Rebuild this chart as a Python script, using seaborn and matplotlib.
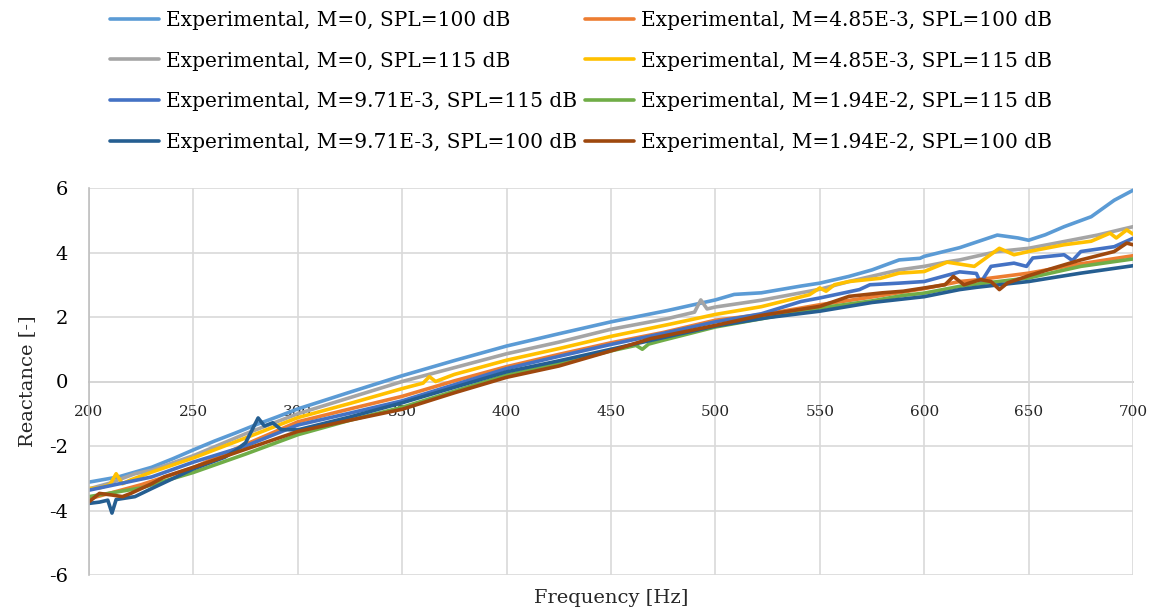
import matplotlib
matplotlib.use("Agg")
import matplotlib.pyplot as plt
import seaborn as sns

# ---- data ----
labels = [
    "Experimental, M=0, SPL=100 dB",
    "Experimental, M=4.85E-3, SPL=100 dB",
    "Experimental, M=0, SPL=115 dB",
    "Experimental, M=4.85E-3, SPL=115 dB",
    "Experimental, M=9.71E-3, SPL=115 dB",
    "Experimental, M=1.94E-2, SPL=115 dB",
    "Experimental, M=9.71E-3, SPL=100 dB",
    "Experimental, M=1.94E-2, SPL=100 dB",
]
colors = ["#5B9BD5", "#ED7D31", "#A5A5A5", "#FFC000",
          "#4472C4", "#70AD47", "#255E91", "#9E480E"]

f1 = [200,214,230,240,250,260,270,280,290,300,325,350,375,400,425,450,477,500,509,522,541,550,564,575,588,598,600,617,635,645,650,658,667,680,691,700]
v1 = [-3.12,-2.96,-2.66,-2.4,-2.12,-1.85,-1.6,-1.34,-1.1,-0.85,-0.33,0.18,0.65,1.1,1.48,1.85,2.2,2.53,2.7,2.75,2.96,3.05,3.26,3.46,3.77,3.82,3.88,4.15,4.54,4.45,4.38,4.55,4.8,5.11,5.62,5.93]

f2 = [200,225,250,275,300,325,350,375,400,425,450,475,500,525,550,575,600,617,625,650,675,700]
v2 = [-3.64,-3.2,-2.67,-1.95,-1.25,-0.85,-0.46,0.02,0.46,0.84,1.2,1.52,1.9,2.1,2.38,2.62,2.88,3.1,3.15,3.36,3.65,3.9]

f3 = [200,210,222,230,250,275,300,325,350,375,400,425,450,477,490,493,496,500,522,550,564,588,600,612,617,635,650,667,683,700]
v3 = [-3.33,-3.15,-2.86,-2.75,-2.3,-1.62,-1.0,-0.5,0.0,0.43,0.86,1.22,1.62,1.95,2.15,2.53,2.25,2.31,2.52,2.86,3.1,3.46,3.57,3.72,3.77,4.03,4.13,4.34,4.54,4.8]

f4 = [200,205,210,213,216,220,230,250,275,300,325,350,360,363,366,375,400,425,450,477,500,522,545,550,553,557,564,579,588,600,611,624,636,643,650,667,680,689,692,697,700]
v4 = [-3.32,-3.3,-3.2,-2.86,-3.17,-3.05,-2.81,-2.37,-1.75,-1.12,-0.68,-0.22,-0.05,0.15,0.0,0.22,0.66,1.02,1.4,1.76,2.08,2.32,2.69,2.9,2.8,3.0,3.1,3.2,3.36,3.41,3.7,3.57,4.13,3.93,4.03,4.24,4.35,4.6,4.45,4.7,4.57]

f5 = [200,230,250,275,300,325,350,375,400,425,450,477,500,522,541,550,569,574,588,600,617,625,627,632,643,649,652,667,671,675,691,700]
v5 = [-3.37,-2.96,-2.5,-2.0,-1.35,-0.98,-0.6,-0.1,0.4,0.78,1.15,1.52,1.85,2.1,2.48,2.59,2.85,3.0,3.05,3.1,3.4,3.35,3.06,3.57,3.67,3.57,3.83,3.93,3.75,4.03,4.18,4.44]

f6 = [200,225,250,275,300,325,350,375,400,425,450,462,465,468,475,500,525,550,575,590,600,617,625,650,675,700]
v6 = [-3.57,-3.3,-2.82,-2.25,-1.65,-1.2,-0.8,-0.3,0.2,0.55,0.95,1.12,1.0,1.16,1.28,1.69,1.98,2.28,2.5,2.67,2.74,2.95,3.02,3.21,3.57,3.8]

f7 = [200,205,209,211,213,222,230,250,265,270,275,281,284,288,292,300,325,350,375,400,425,450,475,500,525,550,575,600,617,625,650,675,700]
v7 = [-3.78,-3.74,-3.68,-4.08,-3.66,-3.57,-3.32,-2.71,-2.35,-2.15,-1.9,-1.13,-1.38,-1.28,-1.49,-1.5,-1.1,-0.66,-0.18,0.3,0.64,1.0,1.36,1.72,1.98,2.18,2.45,2.63,2.85,2.92,3.1,3.36,3.59]

f8 = [200,205,211,216,220,230,236,250,275,300,325,350,375,400,425,450,469,500,522,540,550,564,580,590,600,610,614,619,627,632,636,640,650,662,675,691,697,700]
v8 = [-3.73,-3.47,-3.52,-3.57,-3.47,-3.17,-2.96,-2.66,-2.1,-1.55,-1.2,-0.86,-0.35,0.13,0.48,0.95,1.33,1.74,2.05,2.23,2.33,2.64,2.75,2.8,2.9,3.0,3.26,3.0,3.16,3.1,2.85,3.06,3.28,3.52,3.77,4.03,4.29,4.24]

freqs = [f1, f2, f3, f4, f5, f6, f7, f8]
vals = [v1, v2, v3, v4, v5, v6, v7, v8]

x_ticks = [200, 250, 300, 350, 400, 450, 500, 550, 600, 650, 700]
y_ticks = [-6, -4, -2, 0, 2, 4, 6]

# ---- style ----
sns.set_theme(style="white")
plt.rcParams["font.family"] = ["DejaVu Serif"]
plt.rcParams["axes.unicode_minus"] = False
FS = 14
LFS = 14.5

fig = plt.figure(figsize=(11.62, 6.13), dpi=100)
ax = fig.add_axes([89/1162, 1-575/613, (1133-89)/1162, (575-188)/613])

handles = []
for f, v, c, lab in zip(freqs, vals, colors, labels):
    sns.lineplot(x=f, y=v, ax=ax, color=c, linewidth=2.6, label=lab, legend=False)
    handles.append(ax.lines[-1])

ax.set_xlim(200, 700)
ax.set_ylim(-6, 6)
ax.set_xticks(x_ticks)
ax.set_yticks(y_ticks)
ax.set_xticklabels([str(t) for t in x_ticks], fontsize=FS, color="black")
ax.set_yticklabels([str(t) for t in y_ticks], fontsize=FS, color="black")
ax.grid(True, color="#D9D9D9", linewidth=1.2)
ax.set_axisbelow(True)

for s in ["top", "right"]:
    ax.spines[s].set_visible(False)
ax.spines["bottom"].set_position(("data", 0))
ax.spines["bottom"].set_color("#BFBFBF")
ax.spines["bottom"].set_linewidth(1.2)
ax.spines["left"].set_color("#BFBFBF")
ax.spines["left"].set_linewidth(1.2)
ax.spines["bottom"].set_zorder(0.5)
ax.tick_params(axis="both", length=0)
ax.tick_params(axis="x", pad=17)
ax.tick_params(axis="y", pad=15)

ax.set_xlabel("Frequency [Hz]", fontsize=FS)
ax.set_ylabel("Reactance [-]", fontsize=FS)
ax.xaxis.set_label_coords(0.5, -0.035)
ax.yaxis.set_label_coords(-0.051, 0.5)

order = [0, 2, 4, 6, 1, 3, 5, 7]
leg = fig.legend([handles[i] for i in order], [labels[i] for i in order],
                 ncol=2, loc="upper center", bbox_to_anchor=(0.5, 1.012),
                 frameon=False, fontsize=LFS, handlelength=2.45,
                 handletextpad=0.35, columnspacing=0.4, labelspacing=1.08)
for t in leg.get_texts():
    t.set_color("black")

fig.savefig("out.png", dpi=100)
